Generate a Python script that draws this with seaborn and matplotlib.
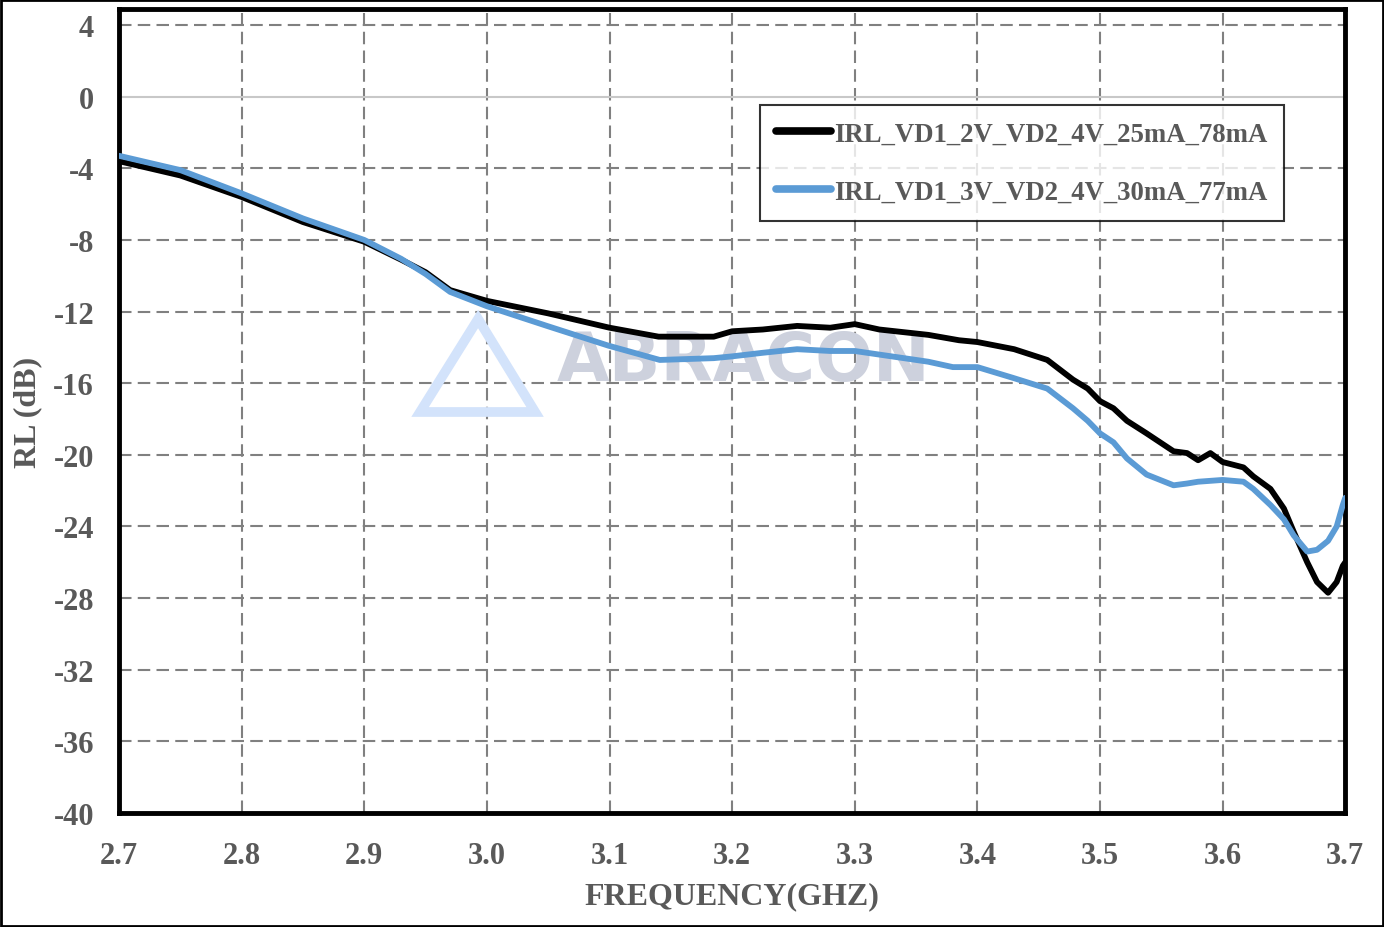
import numpy as np
import pandas as pd
import seaborn as sns
import matplotlib.pyplot as plt
from matplotlib.patches import Rectangle, Polygon

# === Data ===
freq_2v = [2.70, 2.75, 2.80, 2.85, 2.90, 2.93, 2.95, 2.97, 3.00, 3.05, 3.10, 3.14,
           3.185, 3.20, 3.225, 3.253, 3.28, 3.30, 3.32, 3.36, 3.385, 3.40, 3.43,
           3.457, 3.478, 3.49, 3.50, 3.511, 3.522, 3.538, 3.56, 3.571, 3.58, 3.59,
           3.60, 3.617, 3.625, 3.639, 3.65, 3.658, 3.669, 3.677, 3.686, 3.693,
           3.698, 3.70]
rl_2v = [-3.6, -4.4, -5.6, -7.0, -8.1, -9.1, -9.8, -10.8, -11.4, -12.1, -12.9, -13.4,
         -13.4, -13.1, -13.0, -12.8, -12.9, -12.7, -13.0, -13.3, -13.6, -13.7, -14.1,
         -14.7, -15.8, -16.3, -17.0, -17.4, -18.1, -18.8, -19.8, -19.9, -20.3, -19.9,
         -20.4, -20.7, -21.2, -21.9, -23.0, -24.3, -26.0, -27.1, -27.7, -27.1,
         -26.2, -26.0]

freq_3v = [2.70, 2.75, 2.80, 2.85, 2.90, 2.93, 2.95, 2.97, 3.00, 3.049, 3.099, 3.141,
           3.185, 3.20, 3.225, 3.253, 3.28, 3.30, 3.32, 3.36, 3.38, 3.40, 3.429,
           3.457, 3.478, 3.49, 3.50, 3.511, 3.522, 3.538, 3.56, 3.571, 3.58, 3.60,
           3.617, 3.625, 3.639, 3.65, 3.658, 3.669, 3.677, 3.686, 3.693, 3.698, 3.70]
rl_3v = [-3.3, -4.1, -5.4, -6.8, -8.0, -9.05, -9.9, -10.9, -11.7, -12.8, -13.9, -14.7,
         -14.6, -14.5, -14.3, -14.1, -14.2, -14.2, -14.4, -14.8, -15.1, -15.1, -15.7,
         -16.3, -17.4, -18.1, -18.8, -19.3, -20.2, -21.1, -21.7, -21.6, -21.5, -21.4,
         -21.5, -21.9, -22.8, -23.6, -24.5, -25.4, -25.3, -24.8, -24.0, -22.8, -22.4]

label_2v = "IRL_VD1_2V_VD2_4V_25mA_78mA"
label_3v = "IRL_VD1_3V_VD2_4V_30mA_77mA"

x_ticks = [2.7, 2.8, 2.9, 3.0, 3.1, 3.2, 3.3, 3.4, 3.5, 3.6, 3.7]
y_ticks = [4, 0, -4, -8, -12, -16, -20, -24, -28, -32, -36, -40]

df = pd.concat([
    pd.DataFrame({"freq": freq_2v, "rl": rl_2v, "series": label_2v}),
    pd.DataFrame({"freq": freq_3v, "rl": rl_3v, "series": label_3v}),
])

# === Style ===
sns.set_style("white")
plt.rcParams['font.family'] = ['Liberation Serif', 'DejaVu Serif']
plt.rcParams['font.weight'] = 'bold'
text_gray = '#595959'

fig = plt.figure(figsize=(13.84, 9.28), dpi=100)
ax = fig.add_axes([0.086, 0.1228, 0.886, 0.8665])

sns.lineplot(data=df, x="freq", y="rl", hue="series", ax=ax, sort=False,
             palette={label_2v: "black", label_3v: "#5B9BD5"},
             linewidth=4.2, zorder=3)
for line in ax.get_lines():
    line.set_solid_joinstyle('round')

ax.set_xlim(2.7, 3.7)
ax.set_ylim(-40, 4.9)
ax.set_xticks(x_ticks)
ax.set_xticklabels([f"{t:.1f}" for t in x_ticks])
ax.set_yticks(y_ticks)
ax.set_yticklabels([str(t) for t in y_ticks])
ax.tick_params(length=0, labelsize=22, labelcolor=text_gray)
ax.tick_params(axis='y', pad=18)
ax.tick_params(axis='x', pad=20)

ax.grid(True, color='#808080', linestyle=(0, (6, 3)), linewidth=1.5, zorder=1)
for t, gl in zip(y_ticks, ax.yaxis.get_gridlines()):
    if t == 0:
        gl.set_linestyle('-')
        gl.set_color('#c8c8c8')
ax.set_axisbelow(True)

for s in ax.spines.values():
    s.set_visible(True)
    s.set_color('black')
    s.set_linewidth(3.5)

ax.set_xlabel("FREQUENCY(GHZ)", fontsize=23, color=text_gray, fontweight='bold', labelpad=8)
ax.set_ylabel("RL (dB)", fontsize=23, color=text_gray, fontweight='bold', labelpad=8)

# watermark
ax.text(3.057, -14.75, "ABRACON", fontsize=49, fontweight='bold', color='#cdd1dd',
        family='DejaVu Sans', ha='left', va='center', zorder=2)
logo = Polygon([[(420 - 119) / 1226, (814 - 413) / 804],
                [(478 - 119) / 1226, (814 - 320) / 804],
                [(535 - 119) / 1226, (814 - 413) / 804]],
               closed=True, fill=False, edgecolor='#d3e3fb', linewidth=7,
               transform=ax.transAxes, zorder=2)
ax.add_patch(logo)

leg = ax.legend(loc='upper right', bbox_to_anchor=(0.950, 0.881), borderaxespad=0,
                fontsize=19.3, frameon=True, fancybox=False, handlelength=2.05,
                handletextpad=0.1, labelspacing=1.25, borderpad=0.62)
leg.get_frame().set_edgecolor('black')
leg.get_frame().set_linewidth(1.5)
for txt in leg.get_texts():
    txt.set_color(text_gray)
for line in leg.get_lines():
    line.set_linewidth(5.5)
    line.set_solid_capstyle('round')

fig.patches.append(Rectangle((0.001, 0.001), 0.998, 0.998, transform=fig.transFigure,
                             fill=False, edgecolor='black', linewidth=2))

fig.savefig("out.png", dpi=100)
